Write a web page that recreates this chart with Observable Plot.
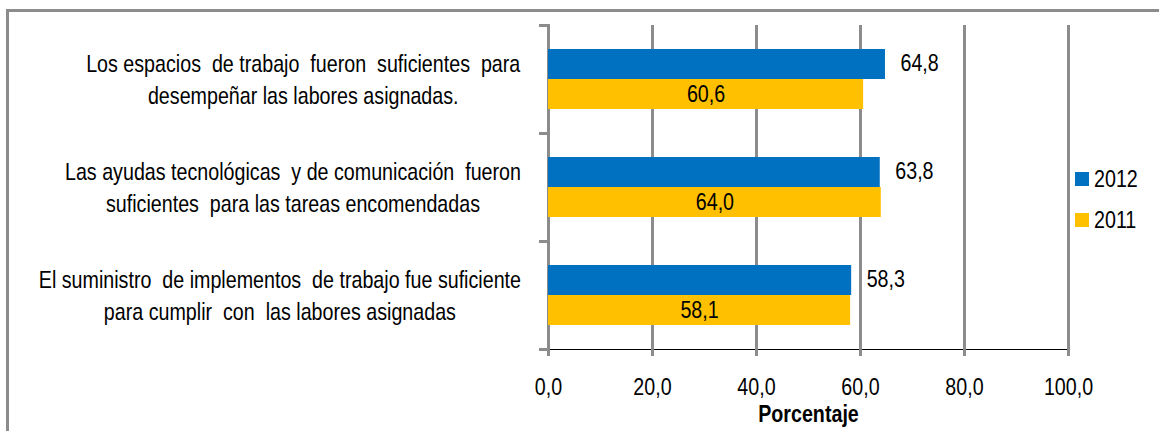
<!DOCTYPE html>
<html><head><meta charset="utf-8">
<script src="https://cdn.jsdelivr.net/npm/d3@7"></script>
<script src="https://cdn.jsdelivr.net/npm/@observablehq/plot@0.6"></script>
<style>
html,body{margin:0;padding:0;background:#fff;overflow:hidden;width:1159px;height:431px}
#wrap{position:relative;width:1159px;height:431px;font-family:'Liberation Sans',Arial,sans-serif;color:#000}
#border{position:absolute;left:6px;top:9px;width:1220px;height:520px;border:3px solid #8c8c8c;box-sizing:border-box}
#chart{position:absolute;left:0;top:0}
#chart g[aria-label^="x-axis"] line,#chart g[aria-label^="x-axis"] path{stroke:#8c8c8c;stroke-width:3px}
#chart g[aria-label="x-axis"] > text,#chart g[aria-label="x-axis label"] text{font-weight:bold}
#chart g.catlabels text,#chart g[aria-description="category-labels"] text{white-space:pre}
#legend{position:absolute;left:1075px;top:158px;font-size:24px;line-height:41px}
#legend .row{display:flex;align-items:center;height:41px}
#legend .sw{width:14px;height:14px;margin-right:5px}
#legend span{display:inline-block;transform:scaleX(0.82);transform-origin:left center}
</style></head>
<body><div id="wrap"><div id="border"></div><div id="chart"></div><div id="legend"></div></div>
<script>
const categories = [
  "Los espacios  de trabajo  fueron  suficientes  para\ndesempeñar las labores asignadas.",
  "Las ayudas tecnológicas  y de comunicación  fueron\nsuficientes  para las tareas encomendadas",
  "El suministro  de implementos  de trabajo fue suficiente\npara cumplir  con  las labores asignadas"
];
const series = ["2012", "2011"];
const colors = ["#0070C0", "#FFC000"];
const values2012 = [64.8, 63.8, 58.3];
const values2011 = [60.6, 64.0, 58.1];
const xTicks = [0, 20, 40, 60, 80, 100];
const xLabel = "Porcentaje";

const rows = [];
categories.forEach((c, i) => {
  rows.push({category: c, series: series[0], value: values2012[i]});
  rows.push({category: c, series: series[1], value: values2011[i]});
});
const fmt = v => v.toFixed(1).replace(".", ",");
const grid = "#8c8c8c";

const plot = Plot.plot({
  width: 1159, height: 431,
  marginLeft: 548, marginRight: 91, marginTop: 24, marginBottom: 81,
  style: {fontFamily: "'Liberation Sans',Arial,sans-serif", fontSize: "24px", color: "#000", background: "transparent"},
  facet: {data: rows, y: "category"},
  fy: {type: "band", domain: categories, padding: 0, axis: null},
  y: {type: "band", domain: series, paddingInner: 0, paddingOuter: 0.76, axis: null},
  x: {type: "linear", domain: [0, 100], ticks: xTicks, tickSize: 7, tickPadding: 21, tickFormat: fmt, label: xLabel, labelArrow: "none", labelAnchor: "center", labelOffset: 72, line: true},
  color: {type: "ordinal", domain: series, range: colors},
  marks: [
    Plot.ruleX(xTicks, {stroke: grid, strokeWidth: 3, facet: false}),
    Plot.frame({anchor: "top", stroke: grid, strokeWidth: 3, insetLeft: -8, insetRight: 520}),
    Plot.frame({anchor: "bottom", stroke: grid, strokeWidth: 3, insetLeft: -8, insetRight: 520}),
    Plot.barX(rows, {x: "value", y: "series", fill: "series"}),
    Plot.text(rows, {filter: d => d.series === series[0], x: "value", y: "series", text: d => fmt(d.value), textAnchor: "start", dx: 15, dy: -1, fill: "#000"}),
    Plot.text(rows, Plot.stackX({filter: d => d.series === series[1], x: "value", y: "series", text: d => fmt(d.value), fill: "#000"})),
    Plot.text(rows, {filter: d => d.series === series[0], text: "category", frameAnchor: "left", textAnchor: "middle", dx: -250, dy: -1.5, lineHeight: 1.33, fill: "#000", className: "catlabels", ariaDescription: "category-labels"})
  ]
});
document.getElementById("chart").appendChild(plot);

// narrow the Arial-metric face so it resembles Arial Narrow
d3.select(plot).selectAll("text").each(function() {
  const x = +(this.getAttribute("x") || 0);
  const t = this.getAttribute("transform") || "";
  this.setAttribute("transform", `${t} translate(${x},0) scale(0.82,1) translate(${-x},0)`);
});

// right-align each label block (lines stay centred within the block)
function alignLabels() {
  const svgRect = plot.getBoundingClientRect();
  d3.select(plot).selectAll('g.catlabels text, g[aria-description="category-labels"] text').each(function() {
    const r = this.getBoundingClientRect();
    const shift = (521 - (r.right - svgRect.left)) / 0.82;
    if (Math.abs(shift) < 0.5) return;
    const t = this.getAttribute("transform") || "";
    this.setAttribute("transform", t + ` translate(${shift},0)`);
  });
}
alignLabels();

const legend = d3.select("#legend");
series.forEach((s, i) => {
  const row = legend.append("div").attr("class", "row");
  row.append("div").attr("class", "sw").style("background", colors[i]);
  row.append("span").text(s);
});
</script>
</body></html>
